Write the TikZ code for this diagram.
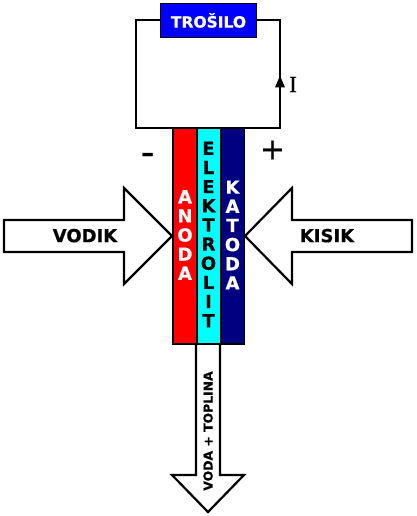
\documentclass[tikz,border=0pt]{standalone}
\usepackage{fontspec}
\setmainfont{DejaVu Sans}
\newfontfamily\heavy[FakeBold=0.6]{DejaVu Sans Bold}
\newfontfamily\serifone[FakeBold=0.3]{Liberation Serif}
\newfontfamily\signfont[FakeBold=0.5]{DejaVu Sans}
\usetikzlibrary{arrows.meta}
\definecolor{loadblue}{RGB}{0,0,255}
\definecolor{anodered}{RGB}{255,0,0}
\definecolor{elcyan}{RGB}{0,255,255}
\definecolor{catnavy}{RGB}{0,0,128}
\tikzset{
  plate/.style={draw=black,line width=1.2pt,minimum height=216pt,inner sep=0pt,outer sep=0pt,anchor=north west},
  bigarrow/.style={draw=black,line width=2.2pt,fill=white,line join=miter},
  wire/.style={draw=black,line width=2pt},
  boldtext/.style={font=\heavy\fontsize{#1}{#1}\selectfont,inner sep=0pt,text depth=0pt},
  stack/.style={font=\heavy\fontsize{18}{19.15}\selectfont,text=#1,align=center,inner sep=0pt},
}
\begin{document}
\begin{tikzpicture}[x=1pt,y=-1pt]
\useasboundingbox (0,0) rectangle (417,516);
\fill[white] (0,0) rectangle (417,516);
% outflow arrow (behind the plates)
\draw[bigarrow] (196,344) -- (196,475) -- (172,475) -- (208,512) -- (244,475) -- (220,475) -- (220,344);
% plates
\node[plate,fill=anodered,minimum width=24pt] (anode) at (173,128) {};
\node[plate,fill=elcyan,minimum width=24pt] (electrolyte) at (197,128) {};
\node[plate,fill=catnavy,minimum width=23.5pt] (cathode) at (221,128) {};
% load
\node[draw=black,line width=1.2pt,fill=loadblue,minimum width=96pt,minimum height=34.5pt,inner sep=0pt,text=white,font=\heavy\fontsize{15.5}{15.5}\selectfont] (load) at (208.5,20.5) {TROŠILO\hspace{6pt}};
% wires
\coordinate (tl) at (136,20);
\coordinate (bl) at (136,128);
\coordinate (tr) at (280,20);
\coordinate (br) at (280,128);
\coordinate (aL) at (anode.north west);
\coordinate (cR) at (cathode.north east);
\coordinate (ibase) at (280,87.5);
\coordinate (itip) at (280,75.5);
\draw[wire] (load.west |- tl) -- (tl) -- (bl) -- (aL);
\draw[wire] (load.east |- tr) -- (tr) -- (br) -- (cR);
\draw[-{Triangle[length=12pt,width=9.5pt]},draw=black,fill=black,line width=2pt,shorten <=-0.5pt] (ibase) -- (itip);
\node[inner sep=0pt,font=\serifone\fontsize{23}{23}\selectfont] (ilabel) at (293,84.5) {I};
% inlet arrows
\draw[bigarrow] (4,220) -- (124,220) -- (124,188) -- (172,236) -- (124,284) -- (124,252) -- (4,252) -- cycle;
\draw[bigarrow] (412,220) -- (292,220) -- (292,188) -- (245,236) -- (292,284) -- (292,252) -- (412,252) -- cycle;
% labels
\node[boldtext=18] (vodik) at (85,235.5) {VODIK};
\node[boldtext=18] (kisik) at (327,235.5) {KISIK};
\node[stack=white] (anodetxt) at (185,235) {A\\N\\O\\D\\A};
\node[stack=black] (eltxt) at (208.5,234.5) {E\\L\\E\\K\\T\\R\\O\\L\\I\\T};
\node[stack=white] (cathtxt) at (232.5,235) {K\\A\\T\\O\\D\\A};
\node[boldtext=12.4,rotate=90] (outtxt) at (208,431) {VODA + TOPLINA};
\node[inner sep=0pt,font=\signfont\fontsize{38}{38}\selectfont] (minus) at (147.5,159) {-};
\node[inner sep=0pt,font=\signfont\fontsize{30}{30}\selectfont] (plus) at (272.5,150) {+};
\end{tikzpicture}
\end{document}
